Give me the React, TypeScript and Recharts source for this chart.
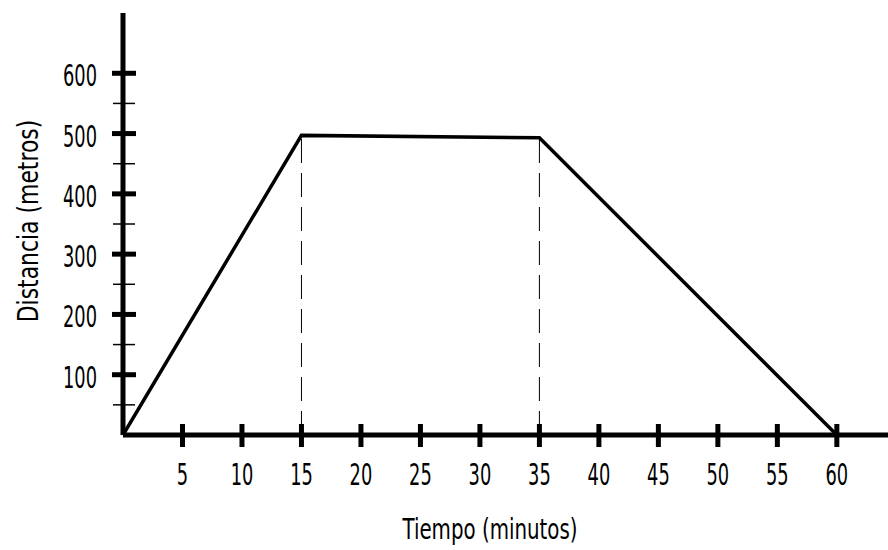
import React from "react";
import {
  ComposedChart,
  Line,
  XAxis,
  YAxis,
  ReferenceLine,
  Label,
} from "recharts";

const times = [0, 15, 35, 60];
const distances = [0, 497, 493, 0];
const xTicks = [5, 10, 15, 20, 25, 30, 35, 40, 45, 50, 55, 60];
const yTicks = [50, 100, 150, 200, 250, 300, 350, 400, 450, 500, 550, 600];
const dashedTimes = [15, 35];
const dashedTops = [497, 493];

const data = times.map((t, i) => ({ t, d: distances[i] }));

const FONT = "'Liberation Sans Narrow', 'DejaVu Sans Condensed', sans-serif";

function XTick(props: any) {
  const { x, y, payload } = props;
  return (
    <g transform={`translate(${x},${y})`}>
      <line x1={0} y1={-11} x2={0} y2={12} stroke="#000" strokeWidth={5} />
      <text
        transform="translate(0,50) scale(0.66,1)"
        textAnchor="middle"
        fontSize={30}
        fontFamily={FONT}
        fill="#000"
      >
        {payload.value}
      </text>
    </g>
  );
}

function YTick(props: any) {
  const { x, y, payload } = props;
  const major = payload.value % 100 === 0;
  return (
    <g transform={`translate(${x},${y})`}>
      {major ? (
        <line x1={-11} y1={0} x2={13} y2={0} stroke="#000" strokeWidth={5} />
      ) : (
        <line x1={-10} y1={0} x2={12} y2={0} stroke="#000" strokeWidth={1.5} />
      )}
      {major && (
        <text
          transform="translate(-43,13) scale(0.66,1)"
          textAnchor="middle"
          fontSize={30}
          fontFamily={FONT}
          fill="#000"
        >
          {payload.value}
        </text>
      )}
    </g>
  );
}

export default function App() {
  return (
    <div style={{ position: "absolute", left: 0, top: 0, width: 888, height: 550, background: "#fff" }}>
      <ComposedChart
        width={888}
        height={550}
        data={data}
        margin={{ top: 13, right: 0, bottom: 0, left: 0 }}
      >
        <XAxis
          type="number"
          dataKey="t"
          domain={[0, 64.3]}
          ticks={xTicks}
          tick={<XTick />}
          tickLine={false}
          tickSize={0}
          tickMargin={0}
          height={115}
          axisLine={{ stroke: "#000", strokeWidth: 5 }}
          allowDataOverflow
        >
          <Label
            content={() => (
              <text
                transform="translate(490,539) scale(0.76,1)"
                textAnchor="middle"
                fontSize={29}
                fontFamily={FONT}
                fill="#000"
              >
                Tiempo (minutos)
              </text>
            )}
          />
        </XAxis>
        <YAxis
          type="number"
          domain={[0, 700]}
          ticks={yTicks}
          tick={<YTick />}
          tickLine={false}
          tickSize={0}
          tickMargin={0}
          width={123}
          axisLine={{ stroke: "#000", strokeWidth: 5 }}
          allowDataOverflow
        >
          <Label
            content={() => (
              <text
                transform="translate(38,221) rotate(-90) scale(0.84,1)"
                textAnchor="middle"
                fontSize={29}
                fontFamily={FONT}
                fill="#000"
              >
                Distancia (metros)
              </text>
            )}
          />
        </YAxis>
        {dashedTimes.map((t, i) => (
          <ReferenceLine
            key={t}
            segment={[
              { x: t, y: 0 },
              { x: t, y: dashedTops[i] },
            ]}
            stroke="#000"
            strokeWidth={1}
            strokeDasharray="24 10"
          />
        ))}
        <Line
          type="linear"
          dataKey="d"
          stroke="#000"
          strokeWidth={3.5}
          dot={false}
          isAnimationActive={false}
        />
      </ComposedChart>
    </div>
  );
}
